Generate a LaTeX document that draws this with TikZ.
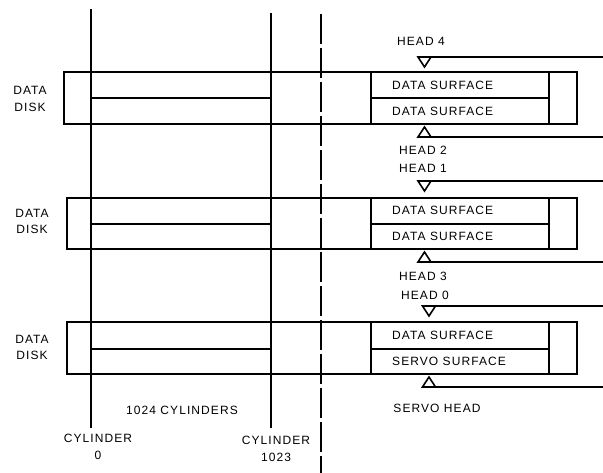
\documentclass[tikz,border=0pt]{standalone}
\usepackage{fontspec}
\setmainfont[LetterSpace=9]{Liberation Sans}
\newcommand\mydisk[4]{% #1 left, #2 top, #3 middle, #4 bottom
  \draw[diskline] (#1,#2) rectangle (577,#4);
  \draw[diskline] (91,#3) -- (271,#3);
  \draw[diskline] (371,#2) -- (371,#4);
  \draw[diskline] (549,#2) -- (549,#4);
  \draw[diskline] (371,#3) -- (549,#3);
}
\begin{document}
\begin{tikzpicture}[x=1pt,y=-1pt,
  lbl/.style={font=\fontsize{12}{16.5}\selectfont, inner sep=0pt, align=center},
  diskline/.style={line width=1.6pt},
  cylline/.style={line width=1.4pt},
  dashline/.style={line width=1.4pt, dash pattern=on 30pt off 4pt},
  headline/.style={line width=1.3pt},
  headtri/.style={line width=1.6pt, line join=miter}]
\useasboundingbox (0,0) rectangle (603,473);

% disks
\mydisk{64}{72}{98}{124}
\mydisk{67}{198}{224}{249}
\mydisk{67}{322}{349}{374}

% cylinder lines
\coordinate (c0top) at (91,9);
\coordinate (c0bot) at (91,428);
\coordinate (c1top) at (271,13);
\coordinate (c1bot) at (271,428);
\coordinate (dtop) at (321,14);
\coordinate (dbot) at (321,473);
\draw[cylline] (c0top) -- (c0bot);
\draw[cylline] (c1top) -- (c1bot);
\draw[dashline] (dtop) -- (dbot);

% heads pointing down (above disks)
\foreach \n/\cx/\y in {h4/424.5/57, h1/424.5/181, h0/429/306}{
  \draw[headtri] (\cx-6.5,\y) -- (\cx,\y+10) -- (\cx+6.5,\y) -- cycle;
  \coordinate (\n s) at (\cx+6.5,\y);
  \coordinate (\n e) at (603,\y);
  \draw[headline] (\n s) -- (\n e);
}
% heads pointing up (below disks)
\foreach \n/\cx/\y in {h2/424.5/137, h3/424.5/262, hs/429/387}{
  \draw[headtri] (\cx-6.5,\y) -- (\cx,\y-10) -- (\cx+6.5,\y) -- cycle;
  \coordinate (\n s) at (\cx+6.5,\y);
  \coordinate (\n e) at (603,\y);
  \draw[headline] (\n s) -- (\n e);
}

% disk labels
\node[lbl] (dd1) at (30,99) {DATA\\DISK};
\node[lbl] (dd2) at (32,221.5) {DATA\\DISK};
\node[lbl] (dd3) at (32,347.5) {DATA\\DISK};

% surface labels
\node[lbl, anchor=west] (s1a) at (392,85) {DATA SURFACE};
\node[lbl, anchor=west] (s1b) at (392,111) {DATA SURFACE};
\node[lbl, anchor=west] (s2a) at (392,210.5) {DATA SURFACE};
\node[lbl, anchor=west] (s2b) at (392,236) {DATA SURFACE};
\node[lbl, anchor=west] (s3a) at (392,335) {DATA SURFACE};
\node[lbl, anchor=west] (s3b) at (392,361) {SERVO SURFACE};

% head labels
\node[lbl] (l4) at (421,41.5) {HEAD 4};
\node[lbl] (l2) at (423,150) {HEAD 2};
\node[lbl] (l1) at (423,168) {HEAD 1};
\node[lbl] (l3) at (423,276) {HEAD 3};
\node[lbl] (l0) at (425,295) {HEAD 0};
\node[lbl] (ls) at (437,408) {SERVO HEAD};

% bottom labels
\node[lbl] (ncyl) at (182,410) {1024 CYLINDERS};
\node[lbl] (cyl0) at (98,447) {CYLINDER\\0};
\node[lbl] (cyl1) at (276,449) {CYLINDER\\1023};
\end{tikzpicture}
\end{document}
